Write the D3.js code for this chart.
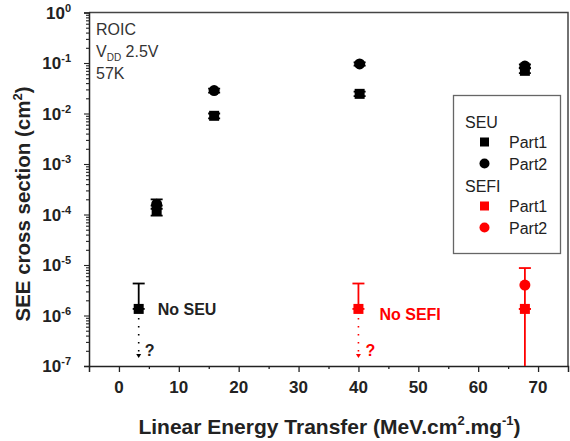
<!DOCTYPE html>
<html><head><meta charset="utf-8">
<script src="https://cdn.jsdelivr.net/npm/d3@7"></script>
<style>
body{margin:0;background:#fff;}
svg{display:block;font-family:"Liberation Sans",Arial,sans-serif;}
</style></head>
<body><svg id="c" width="570" height="441"></svg>
<script>
// ---- data ----
const xTicks = [0, 10, 20, 30, 40, 50, 60, 70];
const yTickExps = [-7, -6, -5, -4, -3, -2, -1, 0];

const seuPart1X = [6.3, 15.9, 40.2, 67.8];
const seuPart1Y = [1.2e-4, 9.0e-3, 2.45e-2, 7.0e-2];
const seuPart1Lo = [0.95e-4, 8.0e-3, 2.2e-2, 6.3e-2];
const seuPart1Hi = [1.5e-4, 1.0e-2, 2.7e-2, 7.8e-2];

const seuPart2X = [6.3, 15.9, 40.2, 67.8];
const seuPart2Y = [1.6e-4, 2.85e-2, 9.6e-2, 8.7e-2];
const seuPart2Lo = [1.3e-4, 2.6e-2, 8.9e-2, 8.0e-2];
const seuPart2Hi = [2.0e-4, 3.1e-2, 1.03e-1, 9.4e-2];

// upper limit (no SEU observed)
const noSeuX = [3.3];
const noSeuY = [1.35e-6];
const noSeuHi = [4.3e-6];

const sefiPart1X = [40.0, 67.8];
const sefiPart1Y = [1.35e-6, 1.35e-6];
const sefiPart1Hi = [4.3e-6, 1.35e-6];

const sefiPart2X = [67.8];
const sefiPart2Y = [4.0e-6];
const sefiPart2Lo = [1e-8];
const sefiPart2Hi = [8.7e-6];

// ---- layout ----
const svg = d3.select("#c");
const L = 89, R = 568, T = 12.5, B = 366;
const x = d3.scaleLinear().domain([-5, 75]).range([L, R]);
const y = d3.scaleLog().domain([1e-7, 1]).range([B, T]);
const ink = "#222";
const red = "#ff0000";

// clip
svg.append("defs").append("clipPath").attr("id","clip")
  .append("rect").attr("x", L).attr("y", T).attr("width", R-L).attr("height", B-T);

// frame (top, right)
svg.append("path").attr("d", `M${L},${T}H${R}V${B}`).attr("fill","none")
  .attr("stroke","#444").attr("stroke-width",1.5);

// x axis
const xMinor = d3.range(-5, 76, 5).filter(v => v % 10 !== 0 && v > -5 && v < 75);
const xAxis = svg.append("g").attr("transform", `translate(0,${B})`);
xAxis.call(d3.axisBottom(x).tickValues(xTicks).tickSize(6).tickFormat(""));
xAxis.append("g").call(d3.axisBottom(x).tickValues(xMinor).tickSize(3).tickFormat(""));
xAxis.selectAll("path.domain").attr("stroke", ink).attr("stroke-width", 1.5);
xAxis.selectAll(".tick line").attr("stroke", ink).attr("stroke-width", 1.3);
xAxis.selectAll("g > g > path.domain").remove();
svg.selectAll(".xl").data(xTicks).enter().append("text")
  .attr("x", d => x(d)).attr("y", B + 27)
  .attr("text-anchor","middle").attr("font-weight","bold").attr("font-size",17)
  .attr("fill", ink).text(d => d);

// y axis
const yMajor = yTickExps.map(e => Math.pow(10, e));
const yMinor = [];
yTickExps.slice(0, -1).forEach(e => { for (let k = 2; k <= 9; k++) yMinor.push(k * Math.pow(10, e)); });
const yAxis = svg.append("g").attr("transform", `translate(${L},0)`);
yAxis.call(d3.axisLeft(y).tickValues(yMajor).tickSize(5).tickFormat(""));
yAxis.append("g").call(d3.axisLeft(y).tickValues(yMinor).tickSize(3).tickFormat(""));
yAxis.selectAll("path.domain").attr("stroke", ink).attr("stroke-width", 1.5);
yAxis.selectAll(".tick line").attr("stroke", ink).attr("stroke-width", 1.1);
yAxis.selectAll("g > g > path.domain").remove();
yTickExps.forEach(e => {
  const t = svg.append("text").attr("x", L - 18).attr("y", y(Math.pow(10, e)) + 6)
    .attr("text-anchor","end").attr("font-weight","bold").attr("font-size",17).attr("fill", ink);
  t.append("tspan").text("10");
  t.append("tspan").attr("dy", -7).attr("font-size", 11).text(e === 0 ? "0" : "-" + (-e));
});

// axis titles
const xt = svg.append("text").attr("x", (L + R) / 2 + 1).attr("y", 434)
  .attr("text-anchor","middle").attr("font-weight","bold").attr("font-size",21).attr("fill", ink);
xt.append("tspan").text("Linear Energy Transfer (MeV.cm");
xt.append("tspan").attr("dy",-9).attr("font-size",13).text("2");
xt.append("tspan").attr("dy",9).text(".mg");
xt.append("tspan").attr("dy",-9).attr("font-size",13).text("-1");
xt.append("tspan").attr("dy",9).text(")");

const yt = svg.append("text").attr("transform", "translate(30,204) rotate(-90)")
  .attr("text-anchor","middle").attr("font-weight","bold").attr("font-size",20.5).attr("fill", ink);
yt.append("tspan").text("SEE cross section (cm");
yt.append("tspan").attr("dy",-8).attr("font-size",13).text("2");
yt.append("tspan").attr("dy",8).text(")");

// annotation
const ann = svg.append("g").attr("fill", "#333").attr("font-size", 16);
ann.append("text").attr("x", 96).attr("y", 35).text("ROIC");
const vdd = ann.append("text").attr("x", 96).attr("y", 57);
vdd.append("tspan").text("V");
vdd.append("tspan").attr("dy", 4).attr("font-size", 10).text("DD");
vdd.append("tspan").attr("dy", -4).text(" 2.5V");
ann.append("text").attr("x", 96).attr("y", 79).text("57K");

// plotting
const plot = svg.append("g").attr("clip-path","url(#clip)");
function errBars(xs, lo, hi, color) {
  xs.forEach((xv, i) => {
    const px = x(xv), y1 = y(hi[i]), y0 = y(lo[i]);
    plot.append("line").attr("x1", px).attr("x2", px).attr("y1", y0).attr("y2", y1)
      .attr("stroke", color).attr("stroke-width", 1.8);
    [hi[i], lo[i]].forEach(v => {
      plot.append("line").attr("x1", px - 6).attr("x2", px + 6).attr("y1", y(v)).attr("y2", y(v))
        .attr("stroke", color).attr("stroke-width", 1.8);
    });
  });
}
function squares(xs, ys, color) {
  xs.forEach((xv, i) => plot.append("rect").attr("x", x(xv) - 5).attr("y", y(ys[i]) - 5)
    .attr("width", 10).attr("height", 10).attr("fill", color));
}
function circles(xs, ys, color) {
  xs.forEach((xv, i) => plot.append("circle").attr("cx", x(xv)).attr("cy", y(ys[i]))
    .attr("r", 5.5).attr("fill", color));
}
function dottedArrow(xv, yv, color) {
  const px = x(xv), y0 = y(yv) + 9, y1 = B - 8;
  plot.append("line").attr("x1", px).attr("x2", px).attr("y1", y0).attr("y2", y1 - 3)
    .attr("stroke", color).attr("stroke-width", 1.6).attr("stroke-dasharray", "1.6,6.4");
  plot.append("path").attr("d", `M${px - 2.5},${y1 - 4}L${px + 2.5},${y1 - 4}L${px},${y1}Z`)
    .attr("fill", color);
}

errBars(seuPart1X, seuPart1Lo, seuPart1Hi, "#000");
errBars(seuPart2X, seuPart2Lo, seuPart2Hi, "#000");
errBars(noSeuX, noSeuY, noSeuHi, "#000");
errBars(sefiPart1X, sefiPart1Y, sefiPart1Hi, red);
errBars(sefiPart2X, sefiPart2Lo, sefiPart2Hi, red);
squares(seuPart1X, seuPart1Y, "#000");
circles(seuPart2X, seuPart2Y, "#000");
squares(noSeuX, noSeuY, "#000");
squares(sefiPart1X, sefiPart1Y, red);
circles(sefiPart2X, sefiPart2Y, red);
dottedArrow(noSeuX[0], noSeuY[0], "#000");
dottedArrow(sefiPart1X[0], sefiPart1Y[0], red);

// labels
svg.append("text").attr("x", x(noSeuX[0]) + 19).attr("y", y(noSeuY[0]) + 6)
  .attr("font-weight","bold").attr("font-size",16).attr("fill", ink).text("No SEU");
svg.append("text").attr("x", x(noSeuX[0]) + 6).attr("y", y(1e-7) - 10)
  .attr("font-weight","bold").attr("font-size",16).attr("fill", ink).text("?");
svg.append("text").attr("x", x(sefiPart1X[0]) + 21).attr("y", y(sefiPart1Y[0]) + 11)
  .attr("font-weight","bold").attr("font-size",16).attr("fill", red).text("No SEFI");
svg.append("text").attr("x", x(sefiPart1X[0]) + 7).attr("y", y(1e-7) - 10)
  .attr("font-weight","bold").attr("font-size",16).attr("fill", red).text("?");

// legend
const lg = svg.append("g");
lg.append("rect").attr("x", 453.5).attr("y", 95.5).attr("width", 107).attr("height", 158)
  .attr("fill","#fff").attr("stroke","#666").attr("stroke-width",1.3);
const legendRows = [
  {type:"head", text:"SEU", y:122},
  {type:"sq", color:"#000", text:"Part1", y:142},
  {type:"ci", color:"#000", text:"Part2", y:163.5},
  {type:"head", text:"SEFI", y:186},
  {type:"sq", color:red, text:"Part1", y:206},
  {type:"ci", color:red, text:"Part2", y:227.5}
];
legendRows.forEach(r => {
  if (r.type === "head") {
    lg.append("text").attr("x", 465).attr("y", r.y + 6).attr("font-size",16).attr("fill", ink).text(r.text);
  } else {
    if (r.type === "sq") lg.append("rect").attr("x", 480).attr("y", r.y - 4.5).attr("width", 9).attr("height", 9).attr("fill", r.color);
    else lg.append("circle").attr("cx", 484.5).attr("cy", r.y).attr("r", 5).attr("fill", r.color);
    lg.append("text").attr("x", 509).attr("y", r.y + 6).attr("font-size",16).attr("fill", ink).text(r.text);
  }
});
</script></body></html>
